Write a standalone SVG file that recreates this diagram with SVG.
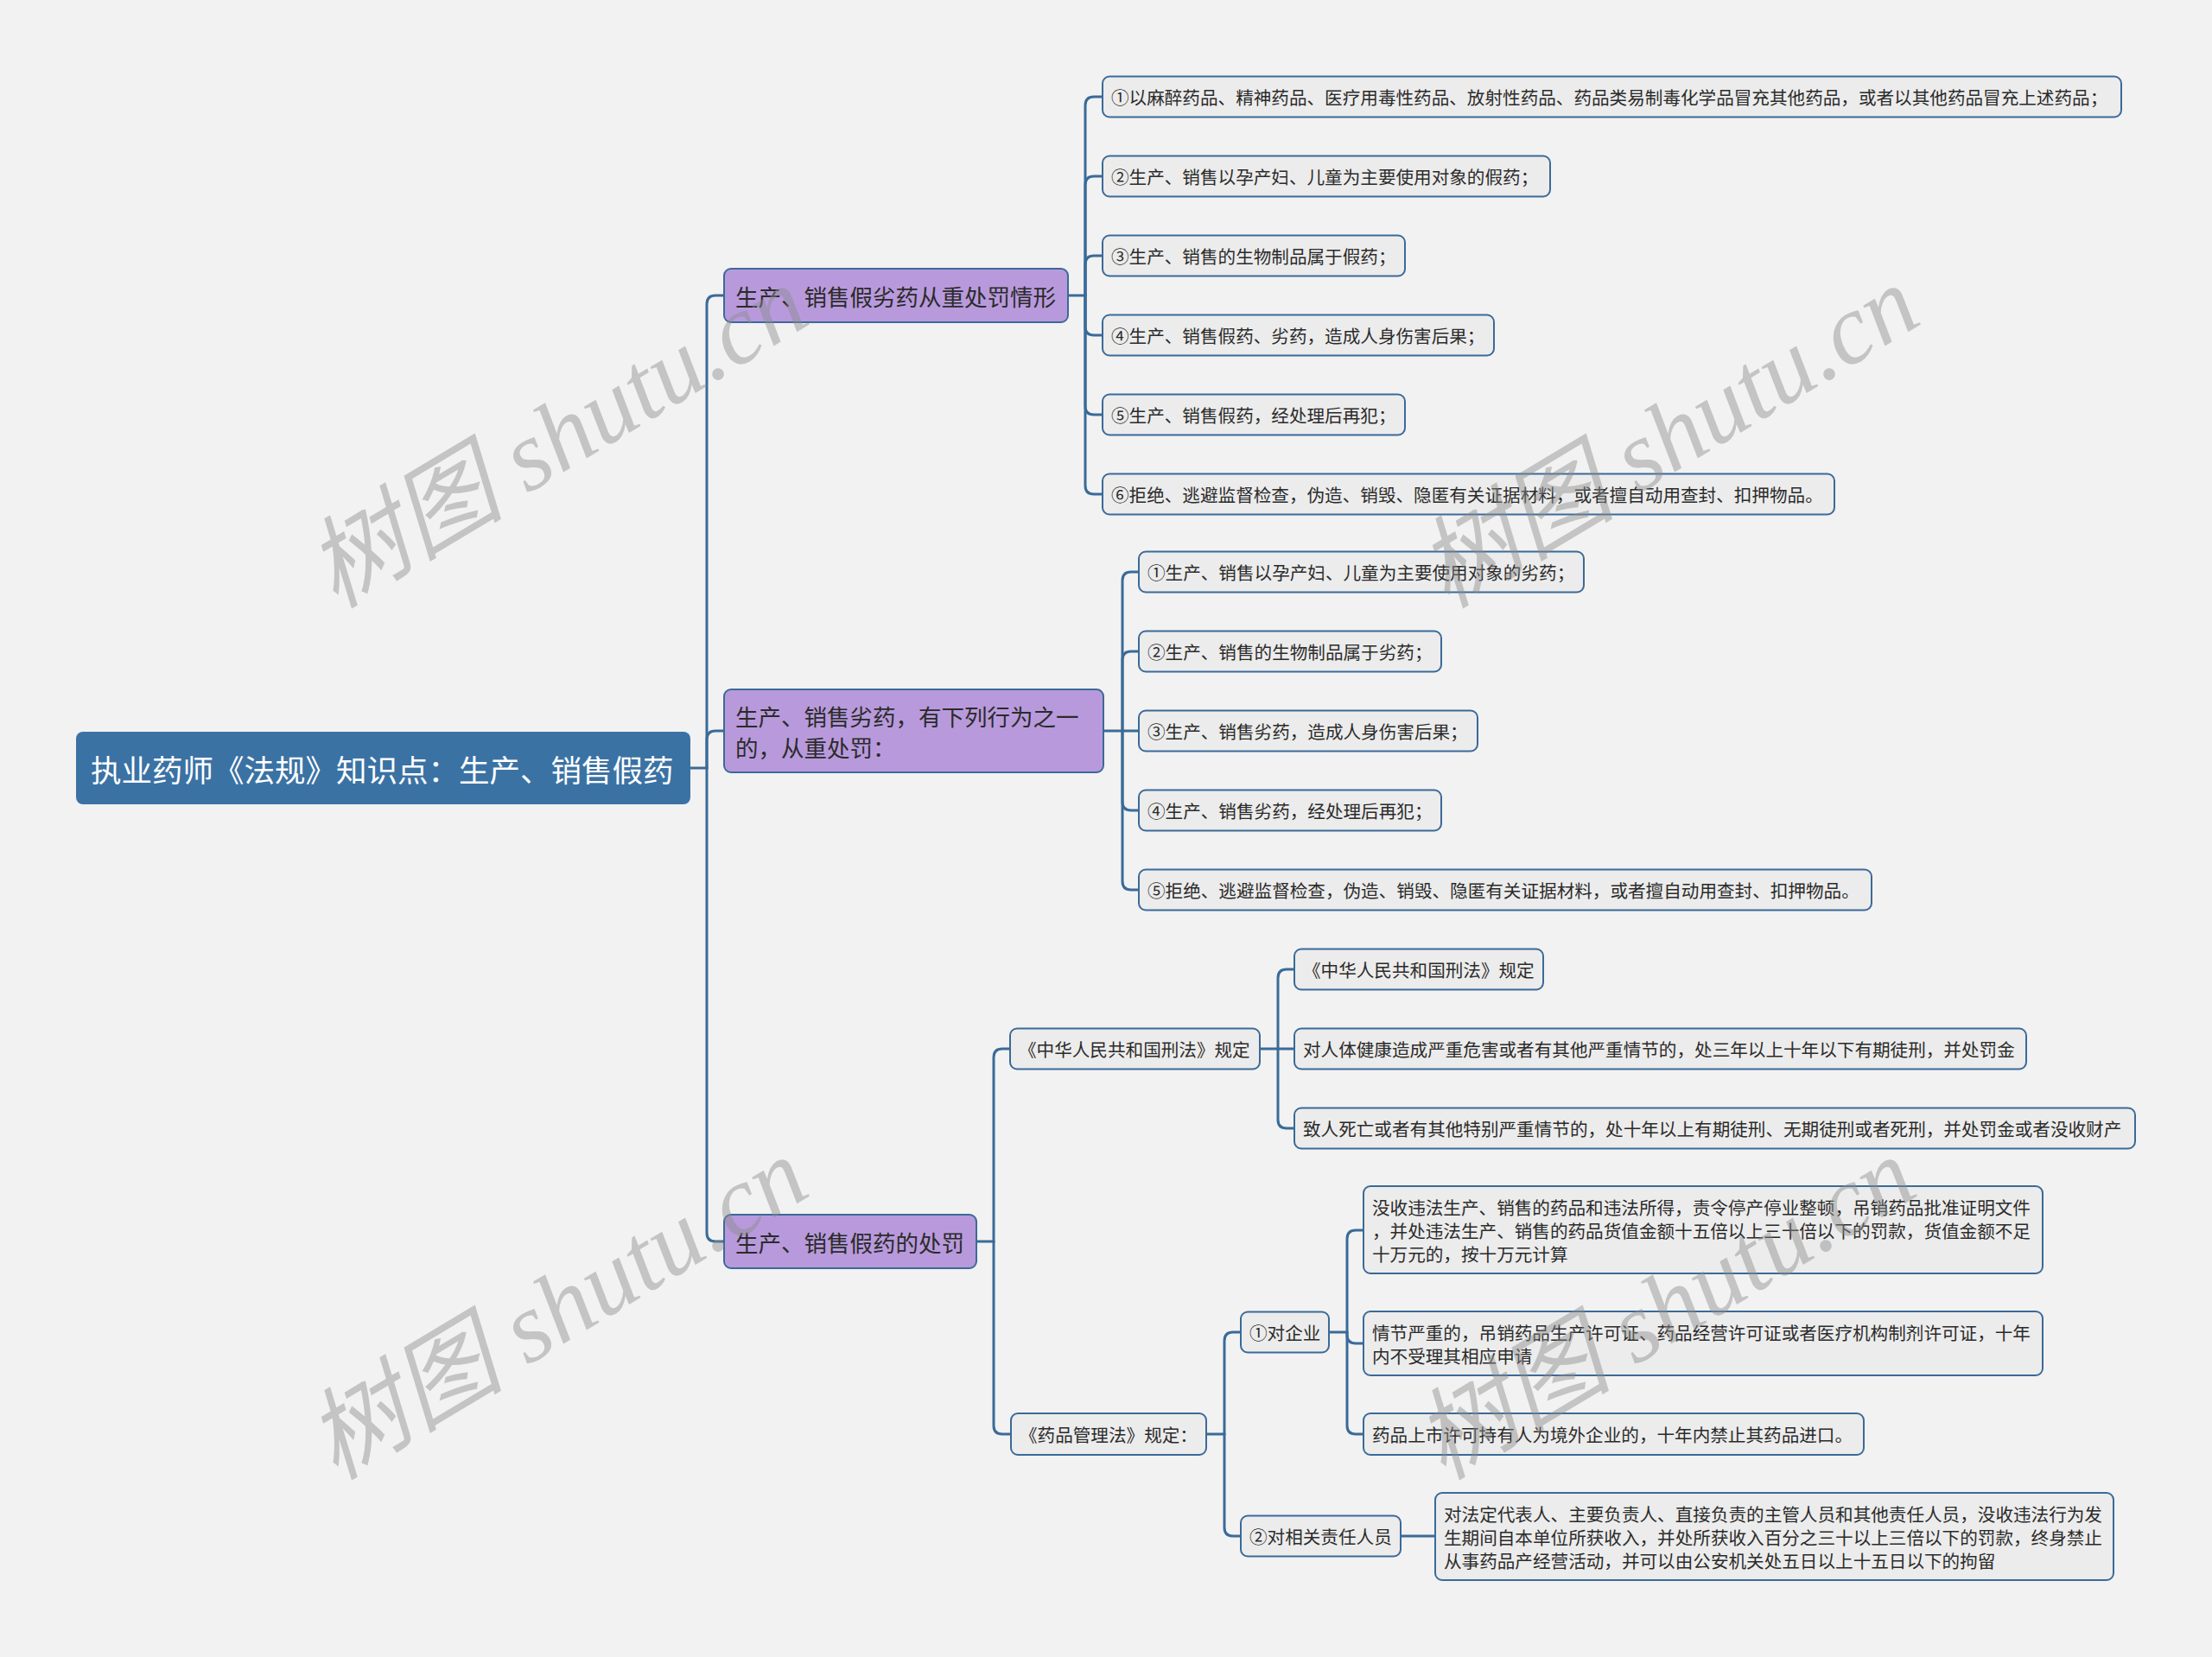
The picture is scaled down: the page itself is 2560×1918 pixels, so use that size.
<svg xmlns="http://www.w3.org/2000/svg" width="2560" height="1918" viewBox="0 0 2560 1918">
<style>
.bg{fill:#f2f2f2}
.conn path{fill:none;stroke:#3a6b98;stroke-width:3;stroke-linecap:round}
.root rect{fill:#3b72a4}
.root text{fill:#ffffff;font-size:35.5px}
.l1 rect{fill:#b89adc;stroke:#3b6a98;stroke-width:2}
.l1 text{fill:#2b2b2b;font-size:26.5px}
.lf rect{fill:#ececec;stroke:#3b6a98;stroke-width:2}
.lf text{fill:#2b2b2b;font-size:20.6px}
text{font-family:"Noto Sans CJK SC","Noto Sans",sans-serif;dominant-baseline:central}
.wm text{font-family:"Liberation Serif","Noto Sans CJK SC",serif;font-style:italic;font-size:115px;fill:#8c8c8c;fill-opacity:0.45;text-anchor:middle}
</style>
<rect class="bg" x="0" y="0" width="2560" height="1918"/>

<g class="conn" id="connectors">
<path d="M799,889 H818"/>
<path d="M818,889 V352 Q818,342 828,342 H838"/>
<path d="M818,889 V856 Q818,846 828,846 H838"/>
<path d="M818,889 V1427 Q818,1437 828,1437 H838"/>

<path d="M1236,342 H1256"/>
<path d="M1256,342 V122 Q1256,112 1266,112 H1276"/>
<path d="M1256,342 V214 Q1256,204 1266,204 H1276"/>
<path d="M1256,342 V306 Q1256,296 1266,296 H1276"/>
<path d="M1256,342 V378 Q1256,388 1266,388 H1276"/>
<path d="M1256,342 V470 Q1256,480 1266,480 H1276"/>
<path d="M1256,342 V562 Q1256,572 1266,572 H1276"/>

<path d="M1277,846 H1299"/>
<path d="M1299,846 V672 Q1299,662 1309,662 H1318"/>
<path d="M1299,846 V764 Q1299,754 1309,754 H1318"/>
<path d="M1299,846 H1318"/>
<path d="M1299,846 V928 Q1299,938 1309,938 H1318"/>
<path d="M1299,846 V1020 Q1299,1030 1309,1030 H1318"/>

<path d="M1130,1437 H1150"/>
<path d="M1150,1437 V1224 Q1150,1214 1160,1214 H1169"/>
<path d="M1150,1437 V1650 Q1150,1660 1160,1660 H1170"/>

<path d="M1458,1214 H1479"/>
<path d="M1479,1214 V1132 Q1479,1122 1489,1122 H1498"/>
<path d="M1479,1214 H1498"/>
<path d="M1479,1214 V1296 Q1479,1306 1489,1306 H1498"/>

<path d="M1396,1660 H1417"/>
<path d="M1417,1660 V1552 Q1417,1542 1427,1542 H1436"/>
<path d="M1417,1660 V1768 Q1417,1778 1427,1778 H1436"/>

<path d="M1538,1542 H1559"/>
<path d="M1559,1542 V1434 Q1559,1424 1569,1424 H1578"/>
<path d="M1559,1542 V1545 Q1559,1555 1569,1555 H1578"/>
<path d="M1559,1542 V1650 Q1559,1660 1569,1660 H1578"/>

<path d="M1621,1778 H1661"/>
</g>

<g class="root" id="root">
<rect x="88" y="847" width="711" height="84" rx="8"/>
<text x="105" y="889">执业药师《法规》知识点：生产、销售假药</text>
</g>

<g class="l1" id="n1">
<rect x="838" y="311" width="398" height="62" rx="8"/>
<text x="851" y="342">生产、销售假劣药从重处罚情形</text>
</g>
<g class="l1" id="n2">
<rect x="838" y="798" width="439" height="96" rx="8"/>
<text x="851" y="828">生产、销售劣药，有下列行为之一</text>
<text x="851" y="864">的，从重处罚：</text>
</g>
<g class="l1" id="n3">
<rect x="838" y="1406" width="292" height="62" rx="8"/>
<text x="851" y="1437">生产、销售假药的处罚</text>
</g>

<g class="lf" id="n1-1">
<rect x="1276" y="88.5" width="1179" height="47" rx="8"/>
<text x="1286" y="112">①以麻醉药品、精神药品、医疗用毒性药品、放射性药品、药品类易制毒化学品冒充其他药品，或者以其他药品冒充上述药品；</text>
</g>
<g class="lf" id="n1-2">
<rect x="1276" y="180.5" width="518" height="47" rx="8"/>
<text x="1286" y="204">②生产、销售以孕产妇、儿童为主要使用对象的假药；</text>
</g>
<g class="lf" id="n1-3">
<rect x="1276" y="272.5" width="350" height="47" rx="8"/>
<text x="1286" y="296">③生产、销售的生物制品属于假药；</text>
</g>
<g class="lf" id="n1-4">
<rect x="1276" y="364.5" width="453" height="47" rx="8"/>
<text x="1286" y="388">④生产、销售假药、劣药，造成人身伤害后果；</text>
</g>
<g class="lf" id="n1-5">
<rect x="1276" y="456.5" width="350" height="47" rx="8"/>
<text x="1286" y="480">⑤生产、销售假药，经处理后再犯；</text>
</g>
<g class="lf" id="n1-6">
<rect x="1276" y="548.5" width="847" height="47" rx="8"/>
<text x="1286" y="572">⑥拒绝、逃避监督检查，伪造、销毁、隐匿有关证据材料，或者擅自动用查封、扣押物品。</text>
</g>

<g class="lf" id="n2-1">
<rect x="1318" y="638.5" width="515" height="47" rx="8"/>
<text x="1328" y="662">①生产、销售以孕产妇、儿童为主要使用对象的劣药；</text>
</g>
<g class="lf" id="n2-2">
<rect x="1318" y="730.5" width="350" height="47" rx="8"/>
<text x="1328" y="754">②生产、销售的生物制品属于劣药；</text>
</g>
<g class="lf" id="n2-3">
<rect x="1318" y="822.5" width="392" height="47" rx="8"/>
<text x="1328" y="846">③生产、销售劣药，造成人身伤害后果；</text>
</g>
<g class="lf" id="n2-4">
<rect x="1318" y="914.5" width="350" height="47" rx="8"/>
<text x="1328" y="938">④生产、销售劣药，经处理后再犯；</text>
</g>
<g class="lf" id="n2-5">
<rect x="1318" y="1006.5" width="848" height="47" rx="8"/>
<text x="1328" y="1030">⑤拒绝、逃避监督检查，伪造、销毁、隐匿有关证据材料，或者擅自动用查封、扣押物品。</text>
</g>

<g class="lf" id="n3-1">
<rect x="1169" y="1190.5" width="289" height="47" rx="8"/>
<text x="1179" y="1214">《中华人民共和国刑法》规定</text>
</g>
<g class="lf" id="n3-1-1">
<rect x="1498" y="1098.5" width="288" height="47" rx="8"/>
<text x="1508" y="1122">《中华人民共和国刑法》规定</text>
</g>
<g class="lf" id="n3-1-2">
<rect x="1498" y="1190.5" width="847" height="47" rx="8"/>
<text x="1508" y="1214">对人体健康造成严重危害或者有其他严重情节的，处三年以上十年以下有期徒刑，并处罚金</text>
</g>
<g class="lf" id="n3-1-3">
<rect x="1498" y="1282.5" width="973" height="47" rx="8"/>
<text x="1508" y="1306">致人死亡或者有其他特别严重情节的，处十年以上有期徒刑、无期徒刑或者死刑，并处罚金或者没收财产</text>
</g>

<g class="lf" id="n3-2">
<rect x="1170" y="1636" width="226" height="48" rx="8"/>
<text x="1180" y="1660">《药品管理法》规定：</text>
</g>
<g class="lf" id="n3-2-1">
<rect x="1436" y="1518.5" width="102" height="47" rx="8"/>
<text x="1446" y="1542">①对企业</text>
</g>
<g class="lf" id="n3-2-1-1">
<rect x="1578" y="1373" width="786" height="101" rx="8"/>
<text x="1588" y="1397">没收违法生产、销售的药品和违法所得，责令停产停业整顿，吊销药品批准证明文件</text>
<text x="1588" y="1424">，并处违法生产、销售的药品货值金额十五倍以上三十倍以下的罚款，货值金额不足</text>
<text x="1588" y="1451">十万元的，按十万元计算</text>
</g>
<g class="lf" id="n3-2-1-2">
<rect x="1578" y="1518" width="786" height="74" rx="8"/>
<text x="1588" y="1541.5">情节严重的，吊销药品生产许可证、药品经营许可证或者医疗机构制剂许可证，十年</text>
<text x="1588" y="1568.5">内不受理其相应申请</text>
</g>
<g class="lf" id="n3-2-1-3">
<rect x="1578" y="1636" width="579" height="48" rx="8"/>
<text x="1588" y="1660">药品上市许可持有人为境外企业的，十年内禁止其药品进口。</text>
</g>
<g class="lf" id="n3-2-2">
<rect x="1436" y="1754.5" width="185" height="47" rx="8"/>
<text x="1446" y="1778">②对相关责任人员</text>
</g>
<g class="lf" id="n3-2-2-1">
<rect x="1661" y="1728" width="785" height="101" rx="8"/>
<text x="1671" y="1751.5">对法定代表人、主要负责人、直接负责的主管人员和其他责任人员，没收违法行为发</text>
<text x="1671" y="1778.5">生期间自本单位所获收入，并处所获收入百分之三十以上三倍以下的罚款，终身禁止</text>
<text x="1671" y="1805.5">从事药品产经营活动，并可以由公安机关处五日以上十五日以下的拘留</text>
</g>

<g class="wm" id="watermark">
<text transform="translate(645,506) rotate(-31)">树图 shutu.cn</text>
<text transform="translate(1931,506) rotate(-31)">树图 shutu.cn</text>
<text transform="translate(645,1515) rotate(-31)">树图 shutu.cn</text>
<text transform="translate(1927,1515) rotate(-31)">树图 shutu.cn</text>
</g>
</svg>
